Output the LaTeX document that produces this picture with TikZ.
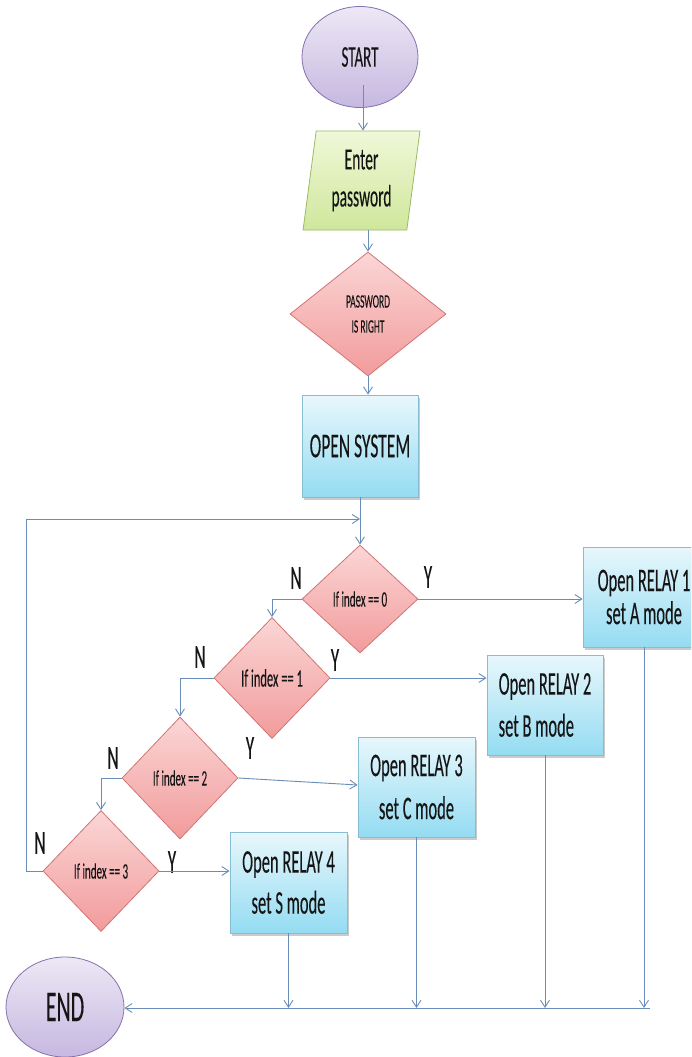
\documentclass[tikz,border=0pt]{standalone}
\usepackage{fontspec}
\setmainfont{Carlito}[FakeStretch=0.5,FakeBold=0.15]
\usetikzlibrary{shapes.geometric,arrows.meta,shadows}
\definecolor{lineblue}{HTML}{6A8DB8}
\definecolor{purpletop}{HTML}{EDE8F6}
\definecolor{purplebot}{HTML}{C6B8E0}
\definecolor{purpleedge}{HTML}{8571AC}
\definecolor{greentop}{HTML}{F0F8D8}
\definecolor{greenbot}{HTML}{CFE79C}
\definecolor{greenedge}{HTML}{9DBB62}
\definecolor{pinktop}{HTML}{FBD6D6}
\definecolor{pinkbot}{HTML}{F29B9B}
\definecolor{pinkedge}{HTML}{D27474}
\definecolor{bluetop}{HTML}{E8F7FC}
\definecolor{bluebot}{HTML}{94DCF2}
\definecolor{blueedge}{HTML}{86BDD2}
\definecolor{txt}{HTML}{151515}
\newcommand{\fsz}[2]{\fontsize{#1}{#2}\selectfont}
\begin{document}
\begin{tikzpicture}[x=1pt,y=-1pt,
  ln/.style={draw=lineblue, line width=0.9pt},
  arr/.style={ln, -{Straight Barb[length=7pt,width=9pt]}},
  term/.style={ellipse, draw=purpleedge, line width=0.8pt, top color=purpletop, bottom color=purplebot, inner sep=0pt, text=txt, align=center},
  para/.style={trapezium, trapezium left angle=82, trapezium right angle=98, trapezium stretches=true, draw=greenedge, line width=0.8pt, top color=greentop, bottom color=greenbot, inner sep=0pt, text=txt, align=center},
  dia/.style={diamond, draw=pinkedge, line width=0.8pt, top color=pinktop, bottom color=pinkbot, inner sep=0pt, text=txt, align=center},
  box/.style={rectangle, draw=blueedge, line width=0.8pt, top color=bluetop, bottom color=bluebot, inner sep=0pt, text=txt, align=center, drop shadow={shadow xshift=1.5pt, shadow yshift=-2.5pt, fill=black!45, opacity=0.45}},
  lbl/.style={text=txt, inner sep=0pt, font=\fsz{34}{36}}
]
\clip (0,0) rectangle (691,1057);
\fill[white] (0,0) rectangle (691,1057);

% nodes
\node[term, minimum width=116, minimum height=101, font=\fsz{30}{32}] (start) at (360,57) {START};
\node[para, minimum width=117, minimum height=99, font=\fsz{31}{37}] (enter) at (361.5,180.5) {Enter\\password};
\node[dia, minimum width=156, minimum height=124, font=\fsz{19}{25}] (pw) at (368,314) {PASSWORD\\IS RIGHT};
\node[box, minimum width=116, minimum height=102, font=\fsz{35}{37}] (os) at (360,446) {OPEN SYSTEM};

\node[dia, minimum width=116, minimum height=108, font=\fsz{22}{24}] (d0) at (360,599) {If index == 0};
\node[dia, minimum width=116, minimum height=121, font=\fsz{25}{27}] (d1) at (272,678) {If index == 1};
\node[dia, minimum width=116, minimum height=122, font=\fsz{22}{24}] (d2) at (180,778) {If index == 2};
\node[dia, minimum width=116, minimum height=121, font=\fsz{22}{24}] (d3) at (101,871) {If index == 3};

\node[box, minimum width=122, minimum height=100, font=\fsz{33}{33}] (r1) at (644,597) {Open RELAY 1\\set A mode};
\node[box, minimum width=116, minimum height=100, font=\fsz{33}{42}, align=left] (r2) at (545,705) {Open RELAY 2\\set B mode};
\node[box, minimum width=117, minimum height=100, font=\fsz{33}{43}] (r3) at (416.5,787) {Open RELAY 3\\set C mode};
\node[box, minimum width=117, minimum height=101, font=\fsz{33}{41}] (r4) at (288.5,882.5) {Open RELAY 4\\set S mode};

\node[term, minimum width=118, minimum height=100, font=\fsz{44}{46}] (end) at (65,1007) {END};

% labels
\node[lbl] (n0) at (296,578) {N};
\node[lbl] (y0) at (428,577) {Y};
\node[lbl] (n1) at (200,657) {N};
\node[lbl] (y1) at (335,660) {Y};
\node[lbl] (n2) at (113,758) {N};
\node[lbl] (y2) at (250,748) {Y};
\node[lbl] (n3) at (40,843) {N};
\node[lbl] (y3) at (172,862) {Y};

% coordinates
\coordinate (lpa) at (26,519);
\coordinate (bl) at (650,1008);

% connectors
\draw[arr] ([xshift=3pt,yshift=-28pt]start.center) -- ([xshift=3pt]start.center |- enter.north);
\draw[arr] (pw.north |- enter.south) -- (pw.north);
\draw[arr] (pw.south) -- (pw.south |- os.north);
\draw[arr] (os.south) -- (d0.north);

\draw[arr] (d3.west) -| (lpa) -- (lpa -| d0.north);

\draw[arr] (d0.west) -| (d1.north);
\draw[arr] (d1.west) -| (d2.north);
\draw[arr] (d2.west) -| (d3.north);

\draw[arr] (d0.east) -- (d0.east -| r1.west);
\draw[arr] (d1.east) -- (d1.east -| r2.west);
\draw[arr] (d2.east) -- ([yshift=2pt]r3.west);
\draw[arr] (d3.east) -- (d3.east -| r4.west);

\draw[arr] (r1.south) -- (r1.south |- bl);
\draw[arr] (r2.south) -- (r2.south |- bl);
\draw[arr] (r3.south) -- (r3.south |- bl);
\draw[arr] (r4.south) -- (r4.south |- bl);
\draw[arr] (bl) -- (bl -| end.east);
\end{tikzpicture}
\end{document}
